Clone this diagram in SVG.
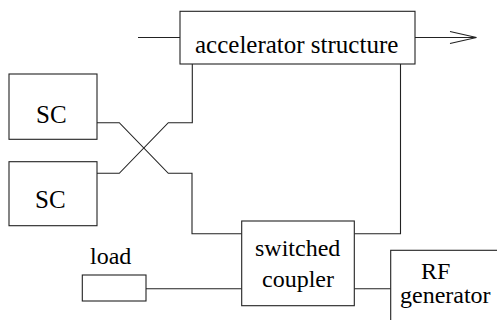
<svg xmlns="http://www.w3.org/2000/svg" width="497" height="320" viewBox="0 0 497 320">
<defs>
<g id="arrowhead"><path d="M-26.5,-6 L0,0 L-26.5,6" fill="none" stroke="#222" stroke-width="1.1"/></g>
</defs>
<rect width="497" height="320" fill="#fff"/>
<g id="connectors" fill="none" stroke="#222" stroke-width="1.1">
<path d="M138,37.5 H180"/>
<path d="M415,37.5 H476"/>
<use href="#arrowhead" x="476.5" y="37.5"/>
<path d="M192.3,64 V122.7 H168.3 L119.3,173.3 H97"/>
<path d="M97,122.7 H119.3 L168.3,173.3 H192 V233.7 H241.7"/>
<path d="M400.5,62 V233.7 H354.3"/>
<path d="M146,288.7 H241.7"/>
<path d="M354.3,288.7 H390.7"/>
</g>
<g id="accelerator">
<rect fill="#fff" stroke="#222" stroke-width="1.1" x="180" y="11.3" width="235" height="52.7"/>
<text x="195" y="53" style="font-family:'Liberation Serif';font-size:25px">accelerator structure</text>
</g>
<g id="sc1">
<rect fill="#fff" stroke="#222" stroke-width="1.1" x="9" y="74" width="88" height="65.3"/>
<text x="36" y="123" style="font-family:'Liberation Serif';font-size:25px">SC</text>
</g>
<g id="sc2">
<rect fill="#fff" stroke="#222" stroke-width="1.1" x="9" y="161.7" width="88" height="64"/>
<text x="35" y="208" style="font-family:'Liberation Serif';font-size:25px">SC</text>
</g>
<g id="coupler">
<rect fill="#fff" stroke="#222" stroke-width="1.1" x="241.7" y="221" width="112.6" height="84.7"/>
<text x="255" y="256" style="font-family:'Liberation Serif';font-size:24px">switched</text>
<text x="262" y="287" style="font-family:'Liberation Serif';font-size:24px">coupler</text>
</g>
<g id="load">
<rect fill="#fff" stroke="#222" stroke-width="1.1" x="82.3" y="275" width="63.7" height="26"/>
<text x="90" y="264" style="font-family:'Liberation Serif';font-size:24px">load</text>
</g>
<g id="rf">
<rect fill="#fff" stroke="#222" stroke-width="1.1" x="390.7" y="250.3" width="120" height="80"/>
<text x="421" y="279" style="font-family:'Liberation Serif';font-size:24px">RF</text>
<text x="400" y="303" style="font-family:'Liberation Serif';font-size:24px">generator</text>
</g>
</svg>
